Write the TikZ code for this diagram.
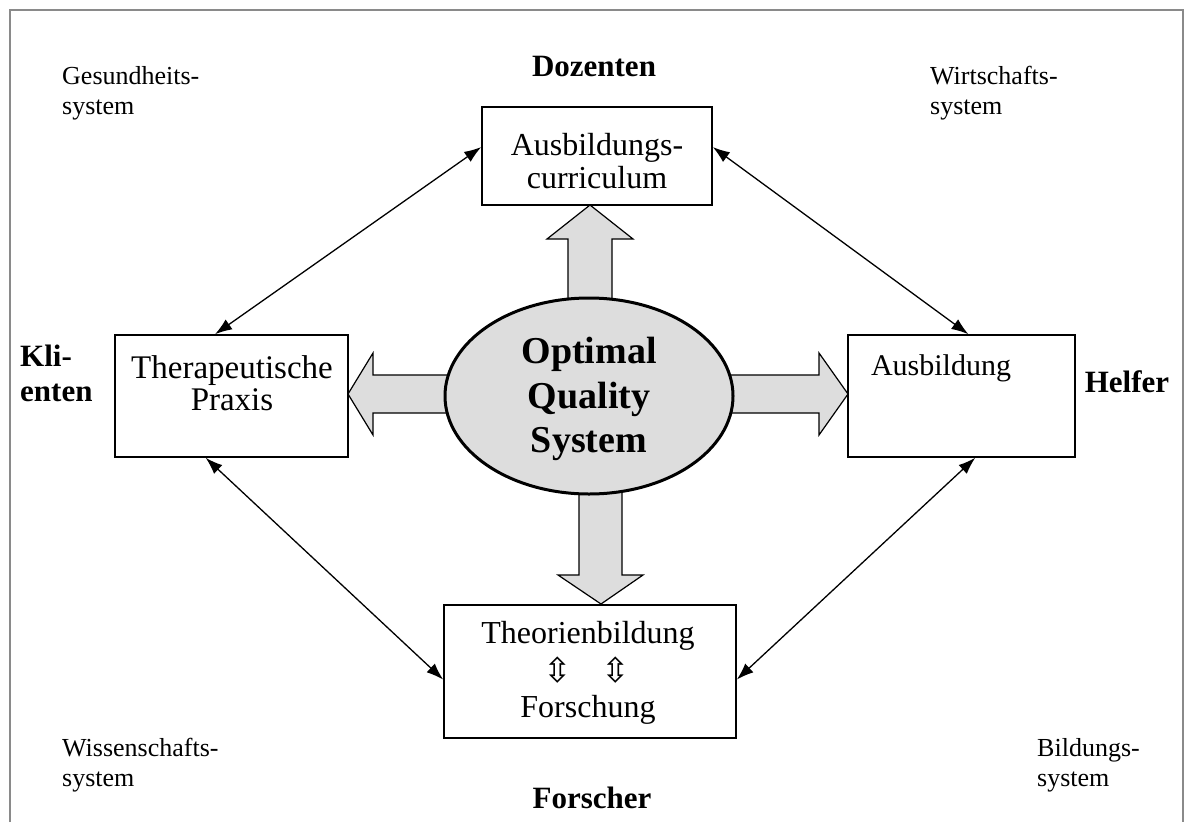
\documentclass[tikz,border=0pt]{standalone}
\usepackage{fontspec}
\setmainfont{Liberation Serif}
\newfontfamily\symfont{DejaVu Sans}
\usetikzlibrary{arrows.meta,calc,shapes.geometric}
\definecolor{fillgray}{HTML}{DDDDDD}
\definecolor{framegray}{HTML}{8A8A8A}
\tikzset{
  box/.style={draw, line width=1.6pt, rectangle, inner sep=0pt},
  small/.style={inner sep=0pt, align=left, font=\fontsize{26}{30}\selectfont},
  boxtext/.style={inner sep=0pt, align=center, font=\fontsize{32}{33}\selectfont},
  role/.style={inner sep=0pt, align=left, font=\fontsize{31}{35}\selectfont\bfseries},
  blockarrow/.style={draw, fill=fillgray, line width=1.2pt, line join=miter},
  link/.style={{Latex[length=17pt,width=12pt]}-{Latex[length=17pt,width=12pt]}, line width=1.3pt},
  udsym/.style={inner sep=0pt, font=\symfont\fontsize{34}{34}\selectfont}
}
\begin{document}
\begin{tikzpicture}[x=1pt,y=-1pt]
\useasboundingbox (0,0) rectangle (1188,822);
% frame
\draw[framegray, line width=2pt] (10,822) -- (10,10) -- (1183,10) -- (1183,822);

% boxes
\node[box, minimum width=230pt, minimum height=98pt] (cur) at (597,156) {};
\node[box, minimum width=233pt, minimum height=122pt] (prax) at (231.5,396) {};
\node[box, minimum width=227pt, minimum height=122pt] (ausb) at (961.5,396) {};
\node[box, minimum width=292pt, minimum height=133pt] (theo) at (590,671.5) {};

% block arrows (drawn below the ellipse)
\draw[blockarrow] (348,394) -- (373,353) -- (373,375) -- (470,375) -- (470,413) -- (373,413) -- (373,435) -- cycle;
\draw[blockarrow] (848,394) -- (819,353) -- (819,375) -- (710,375) -- (710,413) -- (819,413) -- (819,435) -- cycle;
\draw[blockarrow] (590,205) -- (547,239) -- (568,239) -- (568,320) -- (612,320) -- (612,239) -- (633,239) -- cycle;
\draw[blockarrow] (601,604) -- (558,575) -- (579,575) -- (579,470) -- (622,470) -- (622,575) -- (643,575) -- cycle;

% central ellipse
\node[draw, ellipse, line width=3pt, fill=fillgray, minimum width=288pt, minimum height=196pt, inner sep=0pt] (oqs) at (589,396) {};
\node[inner sep=0pt, align=center, font=\fontsize{38}{44.5}\selectfont\bfseries] (oqst) at (589,399) {Optimal\\Quality\\System};

% box texts
\node[boxtext] (curt) at (597,161) {Ausbildungs-\\curriculum};
\node[boxtext, font=\fontsize{33}{32}\selectfont] (praxt) at (232,383) {Therapeutische\\Praxis};
\node[boxtext, font=\fontsize{30}{33}\selectfont] (ausbt) at (941,368) {Ausbildung};
\node[boxtext, anchor=base] (theot1) at (588,643) {Theorienbildung};
\node[udsym] (ud1) at (558,670) {⇳};
\node[udsym] (ud2) at (616,670) {⇳};
\node[boxtext, anchor=base] (theot2) at (588,717) {Forschung};

% connectors
\draw[link] ($(cur.north west)!0.41!(cur.south west)$) -- ($(prax.north west)!0.43!(prax.north east)$);
\draw[link] ($(cur.north east)!0.41!(cur.south east)$) -- ($(ausb.north west)!0.53!(ausb.north east)$);
\draw[link] ($(prax.south west)!0.39!(prax.south east)$) -- ($(theo.north west)!0.56!(theo.south west)$);
\draw[link] ($(ausb.south west)!0.56!(ausb.south east)$) -- ($(theo.north east)!0.56!(theo.south east)$);

% roles
\node[role, anchor=center] (doz) at (594,66) {Dozenten};
\node[role, anchor=center] (forsch) at (592,798) {Forscher};
\node[role, anchor=center] (helf) at (1127,382) {Helfer};
\node[role, anchor=west] (kli) at (20,373) {Kli-\\enten};

% systems
\node[small, anchor=west] (ges) at (62,93) {Gesundheits-\\system};
\node[small, anchor=west] (wirt) at (930,93) {Wirtschafts-\\system};
\node[small, anchor=west] (wiss) at (62,765) {Wissenschafts-\\system};
\node[small, anchor=west] (bild) at (1037,765) {Bildungs-\\system};
\end{tikzpicture}
\end{document}
